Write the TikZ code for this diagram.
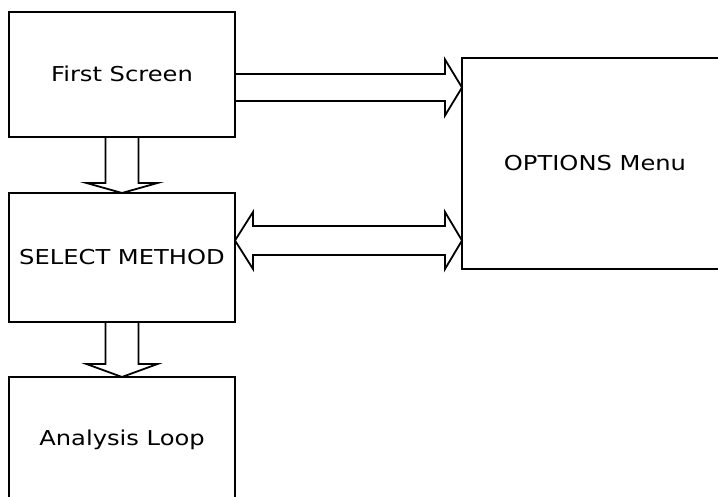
\documentclass[tikz,border=0pt]{standalone}
\usepackage{fontspec}
\newfontfamily\labelfont{DejaVu Sans}[FakeStretch=1.18]
\usetikzlibrary{calc}
\begin{document}
\begin{tikzpicture}[x=1pt,y=-1pt,
  box/.style={draw, line width=1.8pt, inner sep=0pt, outer sep=0pt,
    font=\labelfont\fontsize{20.5}{24}\selectfont, text height=14.9pt, text depth=0pt},
  fatarrow/.style={draw, line width=1.8pt, line join=miter}]
\useasboundingbox (0,0) rectangle (718,497);
\node[box, minimum width=226pt, minimum height=125pt] (fs) at (122,74.5) {First Screen};
\node[box, minimum width=226pt, minimum height=129pt] (sm) at (122,257.5) {SELECT METHOD};
\node[box, minimum width=226pt, minimum height=122pt] (al) at (122,438) {Analysis Loop};
\node[box, minimum width=266pt, minimum height=211pt] (om) at (595,163.5) {OPTIONS Menu};
% First Screen -> OPTIONS Menu
\coordinate (a1) at ($(fs.east)+(0,13)$);
\coordinate (a1t) at (a1 -| om.west);
\draw[fatarrow] ($(a1)+(0,-13.5)$) -- ($(a1t)+(-17,-13.5)$) -- ($(a1t)+(-17,-28)$) -- (a1t)
  -- ($(a1t)+(-17,28)$) -- ($(a1t)+(-17,13.5)$) -- ($(a1)+(0,13.5)$);
% First Screen -> SELECT METHOD
\draw[fatarrow] ($(fs.south)+(-16.5,0)$) -- ($(sm.north)+(-16.5,-10)$) -- ($(sm.north)+(-35.5,-10)$)
  -- (sm.north) -- ($(sm.north)+(35.5,-10)$) -- ($(sm.north)+(16.5,-10)$) -- ($(fs.south)+(16.5,0)$);
% SELECT METHOD -> Analysis Loop
\draw[fatarrow] ($(sm.south)+(-16.5,0)$) -- ($(al.north)+(-16.5,-13)$) -- ($(al.north)+(-35.5,-13)$)
  -- (al.north) -- ($(al.north)+(35.5,-13)$) -- ($(al.north)+(16.5,-13)$) -- ($(sm.south)+(16.5,0)$);
% SELECT METHOD <-> OPTIONS Menu
\coordinate (d1) at ($(sm.east)+(0,-17)$);
\coordinate (d2) at (d1 -| om.west);
\draw[fatarrow] (d1) -- ($(d1)+(18,-28.5)$) -- ($(d1)+(18,-14.5)$) -- ($(d2)+(-17,-14.5)$)
  -- ($(d2)+(-17,-28.5)$) -- (d2) -- ($(d2)+(-17,28.5)$) -- ($(d2)+(-17,14.5)$)
  -- ($(d1)+(18,14.5)$) -- ($(d1)+(18,28.5)$) -- cycle;
\end{tikzpicture}
\end{document}
